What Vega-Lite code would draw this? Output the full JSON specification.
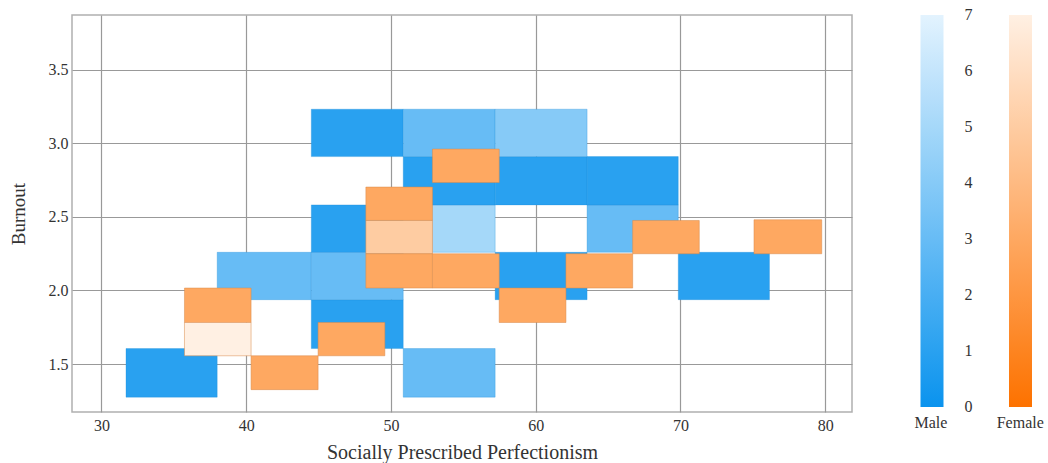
{
  "$schema": "https://vega.github.io/schema/vega-lite/v6.json",
  "width": 780,
  "height": 397,
  "autosize": {"type": "none"},
  "padding": {"left": 72, "top": 15, "right": 196, "bottom": 51},
  "background": "white",
  "config": {
    "font": "Liberation Serif",
    "view": {"stroke": "#b0b0b0", "strokeWidth": 1.5},
    "axis": {"domain": false, "ticks": false, "grid": true, "gridColor": "#999999", "gridWidth": 1.2, "labelFont": "Liberation Serif", "labelFontSize": 16, "labelColor": "#333", "titleFont": "Liberation Serif", "titleFontWeight": "normal", "titleColor": "#333"},
    "legend": {"labelFont": "Liberation Serif", "titleFont": "Liberation Serif"}
  },
  "datasets": {
    "male": [
      {"x0": 31.7, "x1": 38.0, "y0": 1.275, "y1": 1.605, "count": 1},
      {"x0": 50.85, "x1": 57.2, "y0": 1.275, "y1": 1.605, "count": 3},
      {"x0": 44.5, "x1": 50.85, "y0": 1.605, "y1": 1.937, "count": 1},
      {"x0": 38.0, "x1": 44.5, "y0": 1.937, "y1": 2.259, "count": 3},
      {"x0": 44.5, "x1": 50.85, "y0": 1.937, "y1": 2.259, "count": 3},
      {"x0": 57.2, "x1": 63.55, "y0": 1.937, "y1": 2.259, "count": 1},
      {"x0": 69.85, "x1": 76.15, "y0": 1.937, "y1": 2.259, "count": 1},
      {"x0": 44.5, "x1": 50.85, "y0": 2.259, "y1": 2.581, "count": 1},
      {"x0": 50.85, "x1": 57.2, "y0": 2.259, "y1": 2.581, "count": 5},
      {"x0": 63.55, "x1": 69.85, "y0": 2.259, "y1": 2.581, "count": 3},
      {"x0": 50.85, "x1": 57.2, "y0": 2.581, "y1": 2.909, "count": 1},
      {"x0": 57.2, "x1": 63.55, "y0": 2.581, "y1": 2.909, "count": 1},
      {"x0": 63.55, "x1": 69.85, "y0": 2.581, "y1": 2.909, "count": 1},
      {"x0": 44.5, "x1": 50.85, "y0": 2.909, "y1": 3.231, "count": 1},
      {"x0": 50.85, "x1": 57.2, "y0": 2.909, "y1": 3.231, "count": 3},
      {"x0": 57.2, "x1": 63.55, "y0": 2.909, "y1": 3.231, "count": 4}
    ],
    "female": [
      {"x0": 35.74, "x1": 40.34, "y0": 1.782, "y1": 2.016, "count": 3},
      {"x0": 35.74, "x1": 40.34, "y0": 1.556, "y1": 1.782, "count": 7},
      {"x0": 40.34, "x1": 44.97, "y0": 1.326, "y1": 1.556, "count": 3},
      {"x0": 44.97, "x1": 49.58, "y0": 1.556, "y1": 1.782, "count": 3},
      {"x0": 48.27, "x1": 52.87, "y0": 2.475, "y1": 2.702, "count": 3},
      {"x0": 48.27, "x1": 52.87, "y0": 2.249, "y1": 2.475, "count": 5},
      {"x0": 48.27, "x1": 52.87, "y0": 2.016, "y1": 2.249, "count": 3},
      {"x0": 52.87, "x1": 57.48, "y0": 2.016, "y1": 2.249, "count": 3},
      {"x0": 52.87, "x1": 57.48, "y0": 2.733, "y1": 2.96, "count": 3},
      {"x0": 57.48, "x1": 62.09, "y0": 1.782, "y1": 2.016, "count": 3},
      {"x0": 62.09, "x1": 66.7, "y0": 2.016, "y1": 2.249, "count": 3},
      {"x0": 66.7, "x1": 71.3, "y0": 2.249, "y1": 2.475, "count": 3},
      {"x0": 75.08, "x1": 79.76, "y0": 2.249, "y1": 2.48, "count": 3}
    ]
  },
  "encoding": {
    "x": {"field": "x0", "type": "quantitative", "scale": {"domain": [27.97, 81.85], "nice": false, "zero": false}, "axis": {"values": [30, 40, 50, 60, 70, 80], "title": "Socially Prescribed Perfectionism", "titleFontSize": 20, "labelPadding": 5, "titlePadding": 9}},
    "x2": {"field": "x1"},
    "y": {"field": "y0", "type": "quantitative", "scale": {"domain": [1.174, 3.871], "nice": false, "zero": false}, "axis": {"values": [1.5, 2.0, 2.5, 3.0, 3.5], "format": ".1f", "title": "Burnout", "titleFontSize": 19, "labelPadding": 4, "titlePadding": 20}},
    "y2": {"field": "y1"}
  },
  "layer": [
    {
      "data": {"name": "male"},
      "mark": {"type": "rect", "stroke": "#1a8ad8", "strokeOpacity": 0.3, "strokeWidth": 1},
      "encoding": {
        "color": {"field": "count", "type": "quantitative", "scale": {"domain": [0, 7], "range": ["#0a93ee", "#e3f3fe"], "interpolate": "rgb"},
          "legend": {"title": "Male", "orient": "none", "legendX": 842.5, "legendY": 0, "direction": "vertical", "gradientLength": 392, "gradientThickness": 23, "gradientStrokeWidth": 0, "values": [0, 1, 2, 3, 4, 5, 6, 7], "labelFontSize": 16, "labelColor": "#333", "labelOffset": 21, "titleOrient": "bottom", "titleFontSize": 16, "titleFontWeight": "normal", "titleColor": "#333", "titlePadding": 0, "titleAnchor": "start",
            "encoding": {"title": {"dx": {"value": -6}}, "labels": {"baseline": {"value": "middle"}}}}}
      }
    },
    {
      "data": {"name": "female"},
      "mark": {"type": "rect", "stroke": "#d98a4a", "strokeOpacity": 0.5, "strokeWidth": 1},
      "encoding": {
        "color": {"field": "count", "type": "quantitative", "scale": {"domain": [0, 7], "range": ["#fd7200", "#fff0e3"], "interpolate": "rgb"},
          "legend": {"title": "Female", "orient": "none", "legendX": 925, "legendY": 0, "direction": "vertical", "gradientLength": 392, "gradientThickness": 23, "gradientStrokeWidth": 0, "values": [0, 1, 2, 3, 4, 5, 6, 7], "labelExpr": "''", "labelOffset": 0, "labelFontSize": 16, "titleOrient": "bottom", "titleFontSize": 16, "titleFontWeight": "normal", "titleColor": "#333", "titlePadding": 0, "titleAnchor": "start",
            "encoding": {"title": {"dx": {"value": -12.3}}, "labels": {"baseline": {"value": "middle"}}}}}
      }
    }
  ],
  "resolve": {"scale": {"color": "independent"}}
}
